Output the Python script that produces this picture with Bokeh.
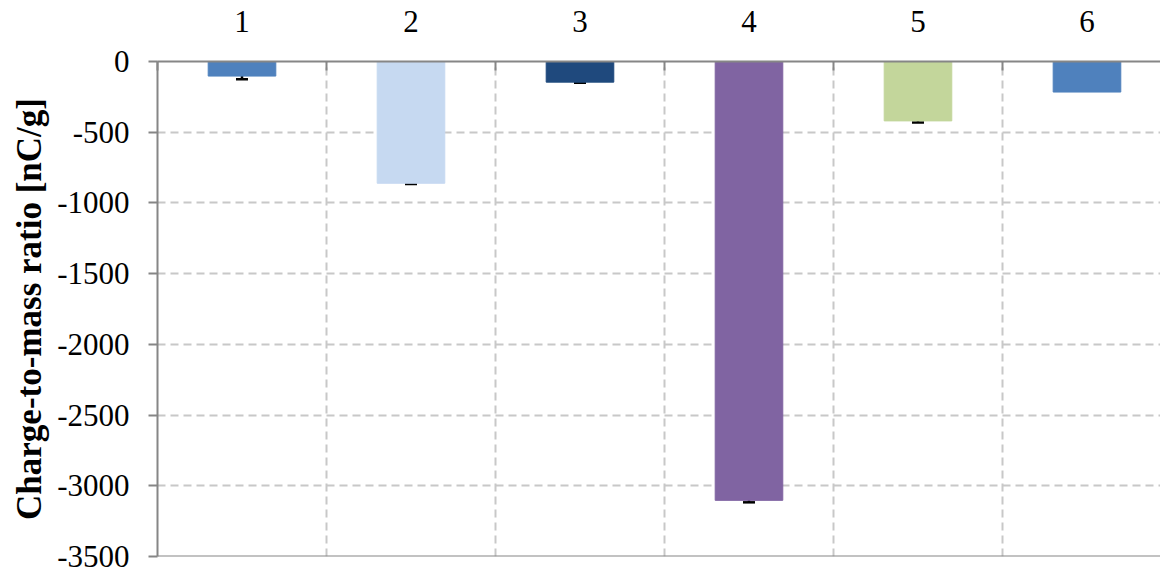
from bokeh.plotting import figure
from bokeh.models import (ColumnDataSource, FixedTicker, LinearAxis, Whisker, TeeHead, Span,
                          CustomJSTickFormatter)
from bokeh.embed import file_html
from bokeh.resources import INLINE

samples = [1, 2, 3, 4, 5, 6]
charge = [-103, -861, -146, -3103, -420, -216]
error = [23, 5, 5, 14, 12, 0]
colors = ["#4F81BD", "#C6D9F1", "#1F497D", "#8064A2", "#C3D69B", "#4F81BD"]
y_ticks = [0, -500, -1000, -1500, -2000, -2500, -3000, -3500]
y_title = "Charge-to-mass ratio [nC/g]"

src = ColumnDataSource(dict(x=samples, top=charge, color=colors))
err_idx = [i for i, e in enumerate(error) if e > 0]
esrc = ColumnDataSource(dict(
    x=[samples[i] for i in err_idx],
    upper=[charge[i] + error[i] for i in err_idx],
    lower=[charge[i] - error[i] for i in err_idx],
))

FONT = "Liberation Serif"
GRID = "#C8C8C8"
AXIS = "#868686"

p = figure(width=1160, height=574, output_backend="svg", toolbar_location=None,
           x_range=(0.5, 6.435), y_range=(-3500, 0),
           x_axis_location=None, y_axis_location=None,
           min_border_left=157, min_border_right=0, min_border_top=61, min_border_bottom=18)
p.outline_line_color = None

p.vbar(x="x", top="top", bottom=0, width=0.4, fill_color="color", line_color="color", source=src)
w = Whisker(base="x", upper="upper", lower="lower", source=esrc, line_color="black", line_width=2.5,
            upper_head=TeeHead(size=12, line_color="black", line_width=2.5),
            lower_head=TeeHead(size=12, line_color="black", line_width=2.5))
p.add_layout(w)

# top category axis
xa = LinearAxis(ticker=FixedTicker(ticks=samples, minor_ticks=[0.5, 1.5, 2.5, 3.5, 4.5, 5.5]))
xa.major_tick_line_color = None
xa.minor_tick_in = 9
xa.minor_tick_out = 0
xa.minor_tick_line_color = AXIS
xa.minor_tick_line_width = 2
xa.axis_line_color = AXIS
xa.axis_line_width = 2
xa.major_label_text_font = FONT
xa.major_label_text_font_size = "31px"
xa.major_label_text_color = "black"
xa.major_label_standoff = 24
p.add_layout(xa, "above")

ya = LinearAxis(ticker=FixedTicker(ticks=y_ticks, minor_ticks=[]))
ya.formatter = CustomJSTickFormatter(code="return tick.toString();")
ya.axis_label = y_title
ya.axis_label_text_font = FONT
ya.axis_label_text_font_style = "bold"
ya.axis_label_text_font_size = "35px"
ya.axis_label_text_color = "black"
ya.axis_label_standoff = 5
ya.major_tick_in = 0
ya.major_tick_out = 9
ya.major_tick_line_color = AXIS
ya.major_tick_line_width = 2
ya.axis_line_color = AXIS
ya.axis_line_width = 2
ya.major_label_text_font = FONT
ya.major_label_text_font_size = "31px"
ya.major_label_text_color = "black"
ya.major_label_standoff = 19
p.add_layout(ya, "left")

p.xgrid.ticker = FixedTicker(ticks=[1.5, 2.5, 3.5, 4.5, 5.5])
p.ygrid.ticker = FixedTicker(ticks=y_ticks[1:-1])
for g in (p.xgrid, p.ygrid):
    g.grid_line_color = GRID
    g.grid_line_width = 2
    g.grid_line_dash = "8 5"
p.add_layout(Span(location=-3500, dimension="width", line_color=AXIS, line_width=2))

open("out.html", "w").write(file_html(p, INLINE))
